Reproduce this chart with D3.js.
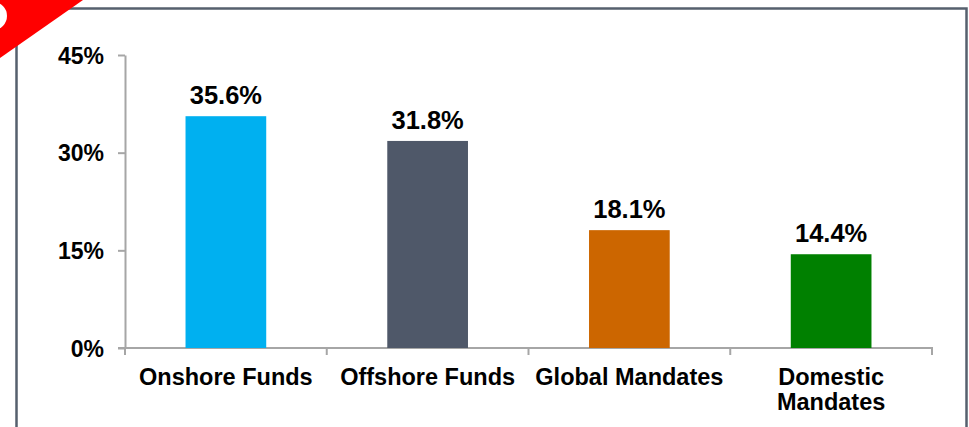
<!DOCTYPE html>
<head>
    <meta charset="utf-8">
    <style>
        body {
            margin: 0;
            padding: 0;
            background: #fff;
        }
        svg text {
            font-family: "Liberation Sans", Arial, sans-serif;
            font-weight: bold;
            fill: #000;
        }
        .axis path, .axis line {
            stroke: #a6a6a6;
            stroke-width: 2;
        }
    </style>
    <script src="https://d3js.org/d3.v7.min.js"></script>
</head>
<body>
    <svg width="969" height="427"></svg>
    <script>
        // data
        var categories = [["Onshore Funds"], ["Offshore Funds"], ["Global Mandates"], ["Domestic", "Mandates"]];
        var values = [35.6, 31.8, 18.1, 14.4];
        var colors = ["#00b0f0", "#4f5869", "#cc6600", "#008000"];
        var yTicks = [0, 15, 30, 45];

        var svg = d3.select("svg");

        // frame
        svg.append("rect")
            .attr("x", 16.5).attr("y", 8.5)
            .attr("width", 950).attr("height", 440)
            .attr("fill", "none")
            .attr("stroke", "#56606e")
            .attr("stroke-width", 2.5);

        // red corner badge
        svg.append("path")
            .attr("d", "M0,0 L83,0 L0,58 Z")
            .attr("fill", "#ff0000");
        svg.append("circle")
            .attr("cx", -7).attr("cy", 16).attr("r", 14)
            .attr("fill", "#fff");

        // scales
        var x = d3.scaleBand()
            .domain(d3.range(categories.length))
            .range([125, 932]);
        var y = d3.scaleLinear()
            .domain([0, 45])
            .range([348, 55]);

        // y axis
        var yAxis = svg.append("g")
            .attr("class", "axis")
            .attr("transform", "translate(125,0)")
            .call(d3.axisLeft(y)
                .tickValues(yTicks)
                .tickSize(7)
                .tickSizeOuter(0)
                .tickPadding(14)
                .tickFormat(function (d) { return d + "%"; }));
        yAxis.selectAll("text")
            .attr("dy", "0.36em")
            .style("font-size", "23px");

        // x axis line + ticks at band edges
        var xg = svg.append("g").attr("class", "axis");
        xg.append("line")
            .attr("x1", 118).attr("x2", x.range()[1] + 1)
            .attr("y1", y(0)).attr("y2", y(0));
        var edges = x.domain().map(function (d) { return x(d); }).concat([x.range()[1]]);
        xg.selectAll(".tk")
            .data(edges)
            .enter().append("line")
            .attr("x1", function (d) { return d; })
            .attr("x2", function (d) { return d; })
            .attr("y1", y(0))
            .attr("y2", y(0) + 7);

        // bars
        var barW = x.bandwidth() * 0.4;
        svg.selectAll(".bar")
            .data(values)
            .enter().append("rect")
            .attr("x", function (d, i) { return x(i) + (x.bandwidth() - barW) / 2; })
            .attr("y", function (d) { return y(d); })
            .attr("width", barW)
            .attr("height", function (d) { return y(0) - y(d); })
            .attr("fill", function (d, i) { return colors[i]; });

        // value labels
        svg.selectAll(".val")
            .data(values)
            .enter().append("text")
            .attr("x", function (d, i) { return x(i) + x.bandwidth() / 2; })
            .attr("y", function (d) { return y(d) - 12; })
            .attr("text-anchor", "middle")
            .style("font-size", "25.5px")
            .text(function (d) { return d.toFixed(1) + "%"; });

        // category labels
        var cat = svg.selectAll(".cat")
            .data(categories)
            .enter().append("text")
            .attr("text-anchor", "middle")
            .style("font-size", "23.5px");
        cat.selectAll("tspan")
            .data(function (d, i) { return d.map(function (t) { return { t: t, i: i }; }); })
            .enter().append("tspan")
            .attr("x", function (d) { return x(d.i) + x.bandwidth() / 2; })
            .attr("y", function (d, j) { return 385 + j * 25; })
            .text(function (d) { return d.t; });
    </script>
</body>
</html>
